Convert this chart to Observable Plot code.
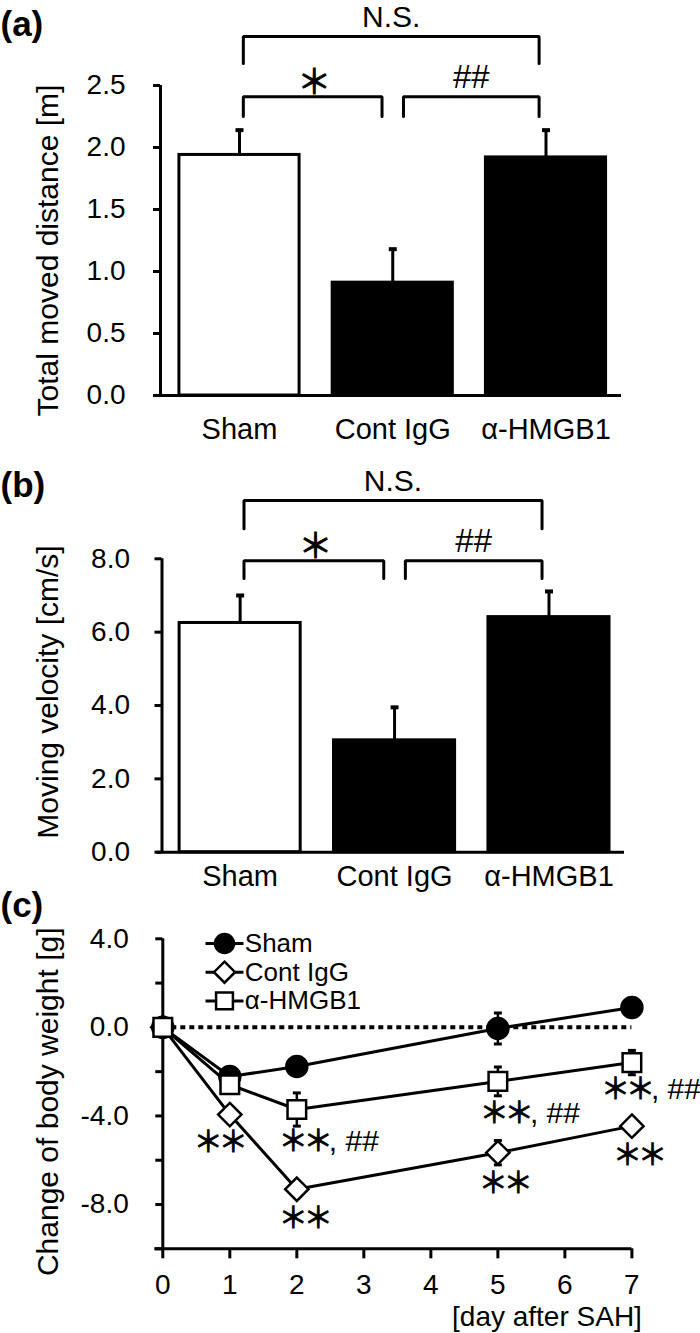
<!DOCTYPE html>
<html>
<head>
<meta charset="utf-8">
<script src="https://cdn.jsdelivr.net/npm/d3@7"></script>
<script src="https://cdn.jsdelivr.net/npm/@observablehq/plot@0.6"></script>
<style>
  html, body { margin: 0; padding: 0; background: #fff; }
  #chart { width: 700px; }
  #chart svg { display: block; }
</style>
</head>
<body>
<div id="chart"></div>
<script>
// ---------------- data ----------------
const categories = ["Sham", "Cont IgG", "α-HMGB1"];
const barFills = ["white", "black", "black"];

const distanceValues = [1.94, 0.91, 1.92];
const distanceErrors = [0.20, 0.27, 0.22];
const distanceTicks = [0, 0.5, 1.0, 1.5, 2.0, 2.5];

const velocityValues = [6.25, 3.05, 6.41];
const velocityErrors = [0.75, 0.90, 0.70];
const velocityTicks = [0, 2, 4, 6, 8];

const bracketFrom = ["Sham", "Sham", "Cont IgG"];
const bracketTo = ["α-HMGB1", "Cont IgG", "α-HMGB1"];
const bracketLabels = ["N.S.", "＊", "##"];
const distanceBracketTop = [2.895, 2.41, 2.41];
const distanceBracketFoot = [2.677, 2.25, 2.25];
const velocityBracketTop = [9.59, 7.95, 7.95];
const velocityBracketFoot = [8.82, 7.46, 7.46];

const days = [0, 1, 2, 5, 7];
const dayTicks = [0, 1, 2, 3, 4, 5, 6, 7];
const weightTicks = [-10, -8, -6, -4, -2, 0, 2, 4];
const seriesNames = ["Sham", "Cont IgG", "α-HMGB1"];
const weightSham = [0, -2.22, -1.77, -0.05, 0.90];
const weightCont = [0, -3.94, -7.31, -5.66, -4.46];
const weightHmgb1 = [0, -2.59, -3.71, -2.44, -1.59];
const errSham = [0, 0.30, 0.35, 0.70, 0.35];
const errCont = [0, 0.35, 0.35, 0.55, 0.35];
const errHmgb1 = [0, 0.35, 0.75, 0.65, 0.55];

const annotSeries = ["Cont IgG", "α-HMGB1", "Cont IgG", "α-HMGB1", "Cont IgG", "α-HMGB1", "Cont IgG"];
const annotDay = [1, 2, 2, 5, 5, 7, 7];
const annotLabel = ["＊＊", "＊＊, ##", "＊＊", "＊＊, ##", "＊＊", "＊＊, ##", "＊＊"];

// ---------------- styles ----------------
const FONT = "'Liberation Sans', Arial, 'Noto Sans CJK JP', sans-serif";
const baseStyle = {fontFamily: FONT, fontSize: "28px", color: "black", background: "white", overflow: "visible"};
const hline = {draw(context, size) { const w = Math.sqrt(size) / 2; context.moveTo(-w, 0); context.lineTo(w, 0); }};
const BAR_HALF = 0.392;
const annotStyle = [
  {dx: -11, dy: 28, anchor: "middle"},
  {dx: -18, dy: 33, anchor: "start"},
  {dx: 7, dy: 30, anchor: "middle"},
  {dx: -18, dy: 33, anchor: "start"},
  {dx: 6, dy: 31, anchor: "middle"},
  {dx: -31, dy: 27, anchor: "start"},
  {dx: 6, dy: 30, anchor: "middle"}
];

// render asterisks like the original figure (centred, six-spoked), rest of label as normal text
function styleAsterisks(svg, size, restSize, spacing) {
  d3.select(svg).selectAll("text").each(function () {
    const t = this.textContent;
    if (!t || !t.includes("＊")) return;
    const m = t.match(/^(＊+)(.*)$/);
    if (!m) return;
    const sel = d3.select(this);
    sel.text(null);
    sel.append("tspan")
      .attr("font-family", "'Noto Sans CJK JP', sans-serif")
      .attr("font-size", size)
      .attr("stroke", "black")
      .attr("stroke-width", 0.9)
      .attr("letter-spacing", spacing)
      .text(m[1]);
    if (m[2]) sel.append("tspan").attr("font-size", restSize).text(m[2]);
  });
  return svg;
}

const chart = document.getElementById("chart");

// ---------------- bar panels ----------------
function barPanel(cfg) {
  const bars = categories.map((c, i) => ({i, name: c, value: cfg.values[i], err: cfg.errs[i], fill: barFills[i]}));
  const last = categories.length - 1;
  const endInset = (i, side) => (i > 0 && i < last) ? 0.07 : (side === "start" ? 0.025 : 0.045);
  const brackets = bracketLabels.map((label, k) => {
    const a = categories.indexOf(bracketFrom[k]), b = categories.indexOf(bracketTo[k]);
    return {k, label, x1: a + endInset(a, "start"), x2: b - endInset(b, "end"), top: cfg.tops[k], foot: cfg.feet[k]};
  });
  const bracketPts = brackets.flatMap(b => [
    {k: b.k, x: b.x1, y: b.foot}, {k: b.k, x: b.x1, y: b.top},
    {k: b.k, x: b.x2, y: b.top}, {k: b.k, x: b.x2, y: b.foot}
  ]);
  const L = cfg.layout;
  const mid = d => (d.x1 + d.x2) / 2;
  const svg = Plot.plot({
    width: 700, height: L.height,
    marginTop: L.top, marginBottom: L.bottom, marginLeft: L.left, marginRight: L.right,
    x: {domain: L.xDomain},
    y: {domain: [cfg.ticks[0], cfg.ticks[cfg.ticks.length - 1]]},
    color: {type: "identity"},
    style: baseStyle,
    marks: [
      Plot.rectY(bars, {x1: d => d.i - BAR_HALF, x2: d => d.i + BAR_HALF, y1: 0, y2: "value", fill: "fill", stroke: "black", strokeWidth: 3}),
      Plot.ruleX(bars, {x: "i", y1: "value", y2: d => d.value + d.err, stroke: "black", strokeWidth: 3}),
      Plot.dot(bars, {x: "i", y: d => d.value + d.err, symbol: hline, r: 4.5, fill: "none", stroke: "black", strokeWidth: 4}),
      Plot.ruleY([0], {stroke: "black", strokeWidth: 3, insetLeft: -5}),
      Plot.ruleX([L.xDomain[0]], {y1: cfg.ticks[0], y2: cfg.ticks[cfg.ticks.length - 1], stroke: "black", strokeWidth: 3}),
      Plot.axisY({ticks: cfg.ticks, tickFormat: d => d.toFixed(1), tickSize: 7, tickPadding: L.yPad, strokeWidth: 3, fontSize: 28, label: null}),
      Plot.axisX({ticks: categories.map((c, i) => i), tickFormat: i => categories[i], tickSize: 0, tickPadding: L.xPad, fontSize: 29, label: null}),
      Plot.line(bracketPts, {x: "x", y: "y", z: "k", stroke: "black", strokeWidth: 3, strokeLinejoin: "miter"}),
      Plot.text(brackets.filter(b => b.label === "N.S."), {x: mid, y: "top", text: "label", dy: -19, fontSize: 30}),
      Plot.text(brackets.filter(b => b.label === "##"), {x: mid, y: "top", text: "label", dy: -19, fontSize: 33}),
      Plot.text(brackets.filter(b => b.label === "＊"), {x: mid, y: "top", text: "label", dy: -12, fontSize: 30}),
      Plot.text([cfg.yLabel], {text: d => d, frameAnchor: "left", dx: 48 - L.left, dy: L.titleDy, rotate: -90, textAnchor: "middle", lineAnchor: "middle", fontSize: 30}),
      Plot.text([cfg.panel], {text: d => d, frameAnchor: "top-left", dx: -L.left, dy: L.panelY - L.top, textAnchor: "start", lineAnchor: "middle", fontWeight: "bold", fontSize: 35})
    ]
  });
  return styleAsterisks(svg, 34, 30, "-3px");
}

chart.append(barPanel({
  values: distanceValues, errs: distanceErrors, ticks: distanceTicks,
  tops: distanceBracketTop, feet: distanceBracketFoot,
  yLabel: "Total moved distance [m]", panel: "(a)",
  layout: {height: 445, top: 85, bottom: 50, left: 160, right: 79, xDomain: [-0.5155, 2.4927], yPad: 28, xPad: 23, titleDy: 10, panelY: 24}
}));

chart.append(barPanel({
  values: velocityValues, errs: velocityErrors, ticks: velocityTicks,
  tops: velocityBracketTop, feet: velocityBracketFoot,
  yLabel: "Moving velocity [cm/s]", panel: "(b)",
  layout: {height: 445, top: 113.3, bottom: 38.3, left: 161.5, right: 76, xDomain: [-0.506, 2.489], yPad: 25, xPad: 13, titleDy: -13.5, panelY: 40}
}));

// ---------------- line panel ----------------
const weightValues = [weightSham, weightCont, weightHmgb1];
const weightErrors = [errSham, errCont, errHmgb1];
const symbols = ["circle", "diamond2", "square"];
const symbolFill = ["black", "white", "white"];
const symbolR = [10.5, 10.5, 10.5];
const points = seriesNames.flatMap((s, k) => days.map((d, j) => ({series: s, k, day: d, value: weightValues[k][j], err: weightErrors[k][j]})));
const withErr = points.filter(p => p.err > 0);
const annots = annotLabel.map((label, n) => {
  const k = seriesNames.indexOf(annotSeries[n]);
  const j = days.indexOf(annotDay[n]);
  return {label, day: annotDay[n], value: weightValues[k][j], n};
});

const legendMarks = seriesNames.flatMap((s, k) => {
  const dy = 4.7 + 28.7 * k;
  return [
    Plot.dot([s], {frameAnchor: "top-left", dx: 61.7, dy, symbol: hline, r: 21.4, fill: "none", stroke: "black", strokeWidth: 3}),
    Plot.dot([s], {frameAnchor: "top-left", dx: 61.7, dy, symbol: symbols[k], r: 9.5, fill: symbolFill[k], stroke: "black", strokeWidth: 2.5}),
    Plot.text([s], {text: d => d, frameAnchor: "top-left", dx: 82, dy, textAnchor: "start", lineAnchor: "middle", fontSize: 26})
  ];
});

const annotMarks = annots.map(a => Plot.text([a], {
  x: "day", y: "value", text: "label",
  dx: annotStyle[a.n].dx, dy: annotStyle[a.n].dy, textAnchor: annotStyle[a.n].anchor, lineAnchor: "middle",
  fontSize: 28
}));

chart.append(styleAsterisks(Plot.plot({
  width: 700, height: 443,
  marginTop: 48.3, marginBottom: 84.7, marginLeft: 162.3, marginRight: 68.6,
  x: {domain: [dayTicks[0], dayTicks[dayTicks.length - 1]]},
  y: {domain: [weightTicks[0], weightTicks[weightTicks.length - 1]]},
  style: baseStyle,
  marks: [
    Plot.ruleY([0], {x1: days[0], x2: days[days.length - 1], stroke: "black", strokeWidth: 4, strokeDasharray: "5,4"}),
    Plot.ruleY([weightTicks[0]], {stroke: "black", strokeWidth: 3, insetLeft: -8}),
    Plot.ruleX([dayTicks[0]], {y1: weightTicks[0], y2: weightTicks[weightTicks.length - 1], stroke: "black", strokeWidth: 3}),
    Plot.axisY({ticks: weightTicks, tickFormat: d => d % 4 === 0 ? d.toFixed(1) : "", tickSize: 7, tickPadding: 27, strokeWidth: 3, fontSize: 28, label: null}),
    Plot.axisX({ticks: dayTicks, tickFormat: d => String(d), tickSize: 10, tickPadding: 15, strokeWidth: 3, fontSize: 28, label: null}),
    Plot.line(points, {x: "day", y: "value", z: "series", stroke: "black", strokeWidth: 3}),
    Plot.ruleX(withErr, {x: "day", y1: d => d.value - d.err, y2: d => d.value + d.err, stroke: "black", strokeWidth: 2.5}),
    Plot.dot(withErr, {x: "day", y: d => d.value + d.err, symbol: hline, r: 4.5, fill: "none", stroke: "black", strokeWidth: 3}),
    Plot.dot(withErr, {x: "day", y: d => d.value - d.err, symbol: hline, r: 4.5, fill: "none", stroke: "black", strokeWidth: 3}),
    ...seriesNames.map((s, k) => Plot.dot(points.filter(p => p.k === k), {x: "day", y: "value", symbol: symbols[k], r: symbolR[k], fill: symbolFill[k], stroke: "black", strokeWidth: 2.5})),
    ...annotMarks,
    ...legendMarks,
    Plot.text(["Change of body weight [g]"], {text: d => d, frameAnchor: "left", dx: 48 - 162.3, dy: 8, rotate: -90, textAnchor: "middle", lineAnchor: "middle", fontSize: 30}),
    Plot.text(["(c)"], {text: d => d, frameAnchor: "top-left", dx: -162.3, dy: 15 - 48.3, textAnchor: "start", lineAnchor: "middle", fontWeight: "bold", fontSize: 35}),
    Plot.text(["[day after SAH]"], {text: d => d, frameAnchor: "bottom-right", dx: 10, dy: 68, textAnchor: "end", lineAnchor: "middle", fontSize: 28})
  ]
}), 29, 30, "-4px"));
</script>
</body>
</html>
